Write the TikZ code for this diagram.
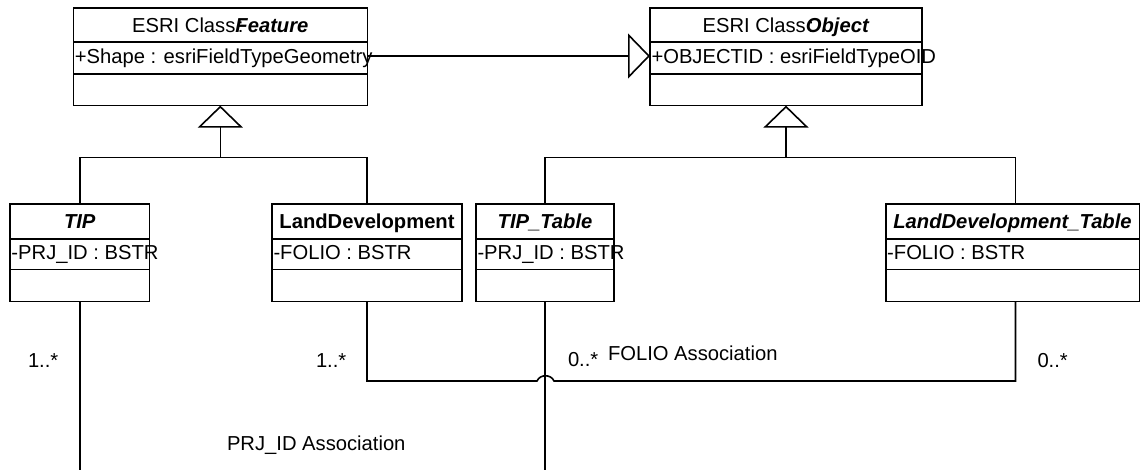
\documentclass[tikz,border=0pt]{standalone}
\usepackage{fontspec}
\setmainfont{Liberation Sans}
\usetikzlibrary{arrows.meta,calc}
\tikzset{
  line/.style={line width=1.6pt, black},
  classbox/.style={draw, line width=1.6pt, rectangle, inner sep=0pt, outer sep=0pt, anchor=north west},
  txt/.style={inner sep=0pt, outer sep=0pt, font=\fontsize{20.2}{24}\selectfont},
  gen/.style={line, -{Triangle[open, length=22pt, width=45pt, fill=white]}},
}
% UML class: name, left, top, width, three compartment heights, title, attribute
\newcommand\umlclass[9]{%
  \node[classbox, minimum width=#4pt, minimum height={(#5+#6+#7)*1pt}] (#1) at (#2,#3) {};
  \draw[line] ([yshift=-#5pt]#1.north west) -- ([yshift=-#5pt]#1.north east);
  \draw[line] ([yshift={-(#5+#6)*1pt}]#1.north west) -- ([yshift={-(#5+#6)*1pt}]#1.north east);
  \node[txt, anchor=base] (#1-name) at ([yshift=-24.5pt]#1.north) {#8};
  \node[txt, anchor=base west] (#1-attr) at ([xshift=1.5pt,yshift=-55pt]#1.north west) {#9};
}
\begin{document}
\begin{tikzpicture}[x=1pt, y=-1pt]
\useasboundingbox (0,0) rectangle (1143,469);

% classes
\umlclass{feature}{73.3}{8}{294}{34}{32}{31.6}%
  {ESRI Class\rlap{\kern2.5pt:}\textbf{\textit{Feature}}}{+Shape : esriFieldTypeGeometry}
\umlclass{object}{650}{8}{272}{34}{32}{31.6}%
  {ESRI Class\rlap{\kern2.5pt:}\textbf{\textit{Object}}}{+OBJECTID : esriFieldTypeOID}
\umlclass{tip}{10}{204}{139.5}{35}{30.5}{32}%
  {\textbf{\textit{TIP}}}{-PRJ\_ID : BSTR}
\umlclass{landdev}{272}{204}{190}{35}{30.5}{32}%
  {\textbf{LandDevelopment}}{-FOLIO : BSTR}
\umlclass{tiptable}{476}{204}{138}{35}{30.5}{32}%
  {\textbf{\textit{TIP\_Table}}}{-PRJ\_ID : BSTR}
\umlclass{ldtable}{885.7}{204}{253.6}{35}{30.5}{32}%
  {\textbf{\textit{LandDevelopment\_Table}}}{-FOLIO : BSTR}

% generalisation: Feature -> Object
\draw[gen] ([yshift=-48pt]feature.north east) -- ([yshift=-48pt]object.north west);

% generalisation: TIP, LandDevelopment -> Feature
\coordinate (fjoin) at ($(feature.south)+(0,52)$);
\draw[line] (tip.north) |- (fjoin) -| (landdev.north);
\draw[gen] (fjoin) -- (feature.south);

% generalisation: TIP_Table, LandDevelopment_Table -> Object
\coordinate (ojoin) at ($(object.south)+(0,52)$);
\draw[line] (tiptable.north) |- (ojoin) -| ([xshift=3pt]ldtable.north);
\draw[gen] (ojoin) -- (object.south);

% PRJ_ID association
\coordinate (bottomline) at (0,472);
\draw[line] (tip.south) -- (tip.south |- bottomline);
\draw[line] (tiptable.south) -- (tiptable.south |- bottomline);

% FOLIO association, hopping over the PRJ_ID line
\coordinate (jumpL) at (537,381);
\coordinate (jumpR) at (554,381);
\draw[line] (landdev.south) |- (jumpL) .. controls +(3,-7) and +(-3,-7) .. (jumpR) -| ([xshift=3pt]ldtable.south);

% multiplicities and association names
\node[txt, anchor=base west] (m-tip) at (28,367) {1..*};
\node[txt, anchor=base west] (m-ld) at (316,367) {1..*};
\node[txt, anchor=base west] (m-tipt) at (568,366) {0..*};
\node[txt, anchor=base west] (folio) at (608,360.5) {FOLIO Association};
\node[txt, anchor=base west] (m-ldt) at (1037.5,367) {0..*};
\node[txt, anchor=base west] (prj) at (227,450) {PRJ\_ID Association};
\end{tikzpicture}
\end{document}
